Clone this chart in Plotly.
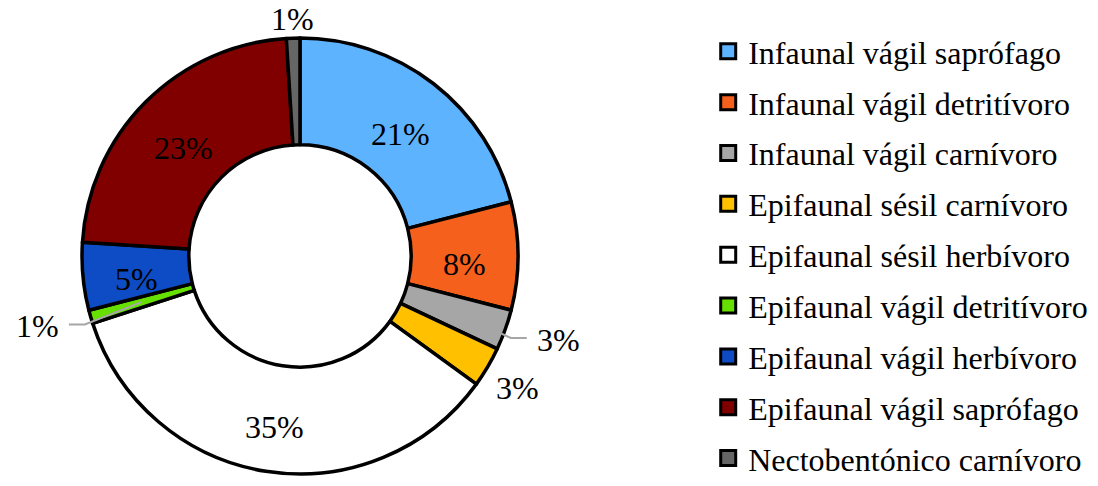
import math
import plotly.graph_objects as go

# Feeding-guild composition (percent of individuals)
categories = [
    "Infaunal vágil saprófago",
    "Infaunal vágil detritívoro",
    "Infaunal vágil carnívoro",
    "Epifaunal sésil carnívoro",
    "Epifaunal sésil herbívoro",
    "Epifaunal vágil detritívoro",
    "Epifaunal vágil herbívoro",
    "Epifaunal vágil saprófago",
    "Nectobentónico carnívoro",
]
percentages = [21, 8, 3, 3, 35, 1, 5, 23, 1]
colors = ["#5EB3FF", "#F5601C", "#A6A6A6", "#FFC000", "#FFFFFF",
          "#66E000", "#0D4CC4", "#800000", "#666666"]
# where each percentage label goes: inside the ring, outside, or outside with a leader line
label_modes = ["inside", "inside", "leader", "outside", "inside",
               "leader", "inside", "inside", "outside"]

FONT = "Liberation Serif, Times New Roman, serif"
FONT_SIZE = 32
W, H = 1098, 486

# ring geometry in pixels
CX, CY, R = 300, 256, 218
HOLE = 0.51
R_IN = R * HOLE
R_MID = (R + R_IN) / 2

fig = go.Figure()
fig.add_trace(go.Pie(
    labels=categories,
    values=percentages,
    sort=False,
    direction="clockwise",
    rotation=0,
    hole=HOLE,
    marker=dict(colors=colors, line=dict(color="black", width=3.5)),
    textinfo="none",
    hoverinfo="label+percent",
    domain=dict(x=[(CX - R) / W, (CX + R) / W],
                y=[(H - CY - R) / H, (H - CY + R) / H]),
    showlegend=False,
))


def to_paper(px, py):
    return px / W, 1 - py / H


def label(px, py, text, yshift=0):
    x, y = to_paper(px, py)
    return dict(x=x, y=y, xref="paper", yref="paper", text=text,
                xanchor="center", yanchor="middle", showarrow=False,
                yshift=yshift,
                font=dict(family=FONT, size=FONT_SIZE, color="black"))


total = sum(percentages)
cum = 0.0
annotations, shapes = [], []
for val, mode in zip(percentages, label_modes):
    frac_mid = (cum + val / 2) / total
    cum += val
    theta = 2 * math.pi * frac_mid
    sx, sy = math.sin(theta), -math.cos(theta)  # screen direction (y down)
    text = f"{round(100 * val / total)}%"
    text_w = FONT_SIZE * (0.5 * (len(text) - 1) + 0.833)
    text_h = FONT_SIZE * 0.85

    if mode == "inside":
        annotations.append(label(CX + R_MID * sx, CY + R_MID * sy, text, -8))
    elif mode == "outside":
        extent = abs(sx) * text_w / 2 + abs(sy) * text_h / 2
        dist = R + 9 + extent
        annotations.append(label(CX + dist * sx, CY + dist * sy, text, -4))
    else:
        # leader: from the middle of the slice out past the ring, then across to the label
        side = 1 if sx > 0 else -1
        p0 = (CX + R_MID * sx, CY + R_MID * sy)
        p1 = (CX + (R + 6) * sx, CY + (R + 6) * sy + 6)
        p2 = (p1[0] + side * 16, p1[1])
        annotations.append(label(p2[0] + side * (10 + text_w / 2), p1[1] + 2, text))
        pts = [to_paper(*p) for p in (p0, p1, p2)]
        path = "M {} {} L {} {} L {} {}".format(*[c for pt in pts for c in pt])
        shapes.append(dict(type="path", path=path, xref="paper", yref="paper",
                           line=dict(color="#A6A6A6", width=2), layer="above"))

# legend entries with square swatches
for name, col in zip(categories, colors):
    fig.add_trace(go.Scatter(
        x=[None], y=[None], mode="markers", name=name,
        legendgroup=name,
        marker=dict(symbol="square", size=15, color=col,
                    line=dict(color="black", width=3)),
    ))

fig.update_layout(
    width=W, height=H,
    margin=dict(l=0, r=0, t=0, b=0),
    paper_bgcolor="white", plot_bgcolor="white",
    xaxis=dict(visible=False), yaxis=dict(visible=False),
    legend=dict(
        x=0.645, xanchor="left", y=0.461, yanchor="middle",
        font=dict(family=FONT, size=FONT_SIZE, color="black"),
        tracegroupgap=6.25,
        itemclick=False,
    ),
    annotations=annotations,
    shapes=shapes,
)

fig.write_html("out.html")
